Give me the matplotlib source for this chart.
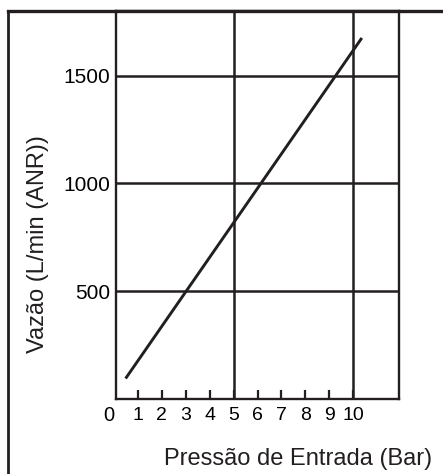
import matplotlib
matplotlib.use("Agg")
import matplotlib.pyplot as plt
from matplotlib.lines import Line2D

# pressure (bar) vs flow (L/min ANR), straight line
pressao = [0.5, 10.35]
vazao = [95, 1675]

x_ticks = [1, 2, 3, 4, 5, 6, 7, 8, 9, 10]
y_ticks = [500, 1000, 1500]
x_grid = [5, 10]

plt.rcParams['font.family'] = ['Liberation Sans', 'DejaVu Sans']

fig = plt.figure(figsize=(4.43, 4.74), dpi=100)
ax = fig.add_axes([116 / 443, 1 - 399 / 474, 283 / 443, 388 / 474])

# outer frame, cut off at the right and bottom
fig.add_artist(Line2D([8 / 443, 8 / 443], [0, 1 - 11 / 474], transform=fig.transFigure,
                      color="#231f20", lw=2))
fig.add_artist(Line2D([8 / 443, 1], [1 - 11 / 474, 1 - 11 / 474], transform=fig.transFigure,
                      color="#231f20", lw=2.4))

for y in y_ticks:
    ax.axhline(y, color="#231f20", lw=1.8)
for x in x_grid:
    ax.axvline(x, color="#231f20", lw=1.8)

ax.plot(pressao, vazao, color="#231f20", lw=2.1, solid_capstyle="butt")

ax.set_xlim(0.1, 11.9)
ax.set_ylim(0, 1800)

ax.set_xticks(x_ticks)
ax.set_xticklabels([str(t) for t in x_ticks], fontsize=14)
ax.set_yticks(y_ticks)
ax.set_yticklabels([str(t) for t in y_ticks], fontsize=15)
ax.tick_params(axis="x", direction="in", length=6.5, width=1.6, pad=6, color="#231f20")
ax.tick_params(axis="y", length=0, pad=4)
ax.text(-0.22, -75, "0", fontsize=14.5, ha="center", va="center", clip_on=False)

for s in ax.spines.values():
    s.set_linewidth(1.7)
    s.set_color("#231f20")

fig.text(298 / 443, 1 - 459 / 474, "Pressão de Entrada (Bar)", fontsize=17,
         ha="center", va="center", color="#231f20")
fig.text(38 / 443, 1 - 244 / 474, "Vazão (L/min (ANR))", fontsize=17, rotation=90,
         ha="center", va="center", color="#231f20")

fig.savefig("out.png", dpi=100)
